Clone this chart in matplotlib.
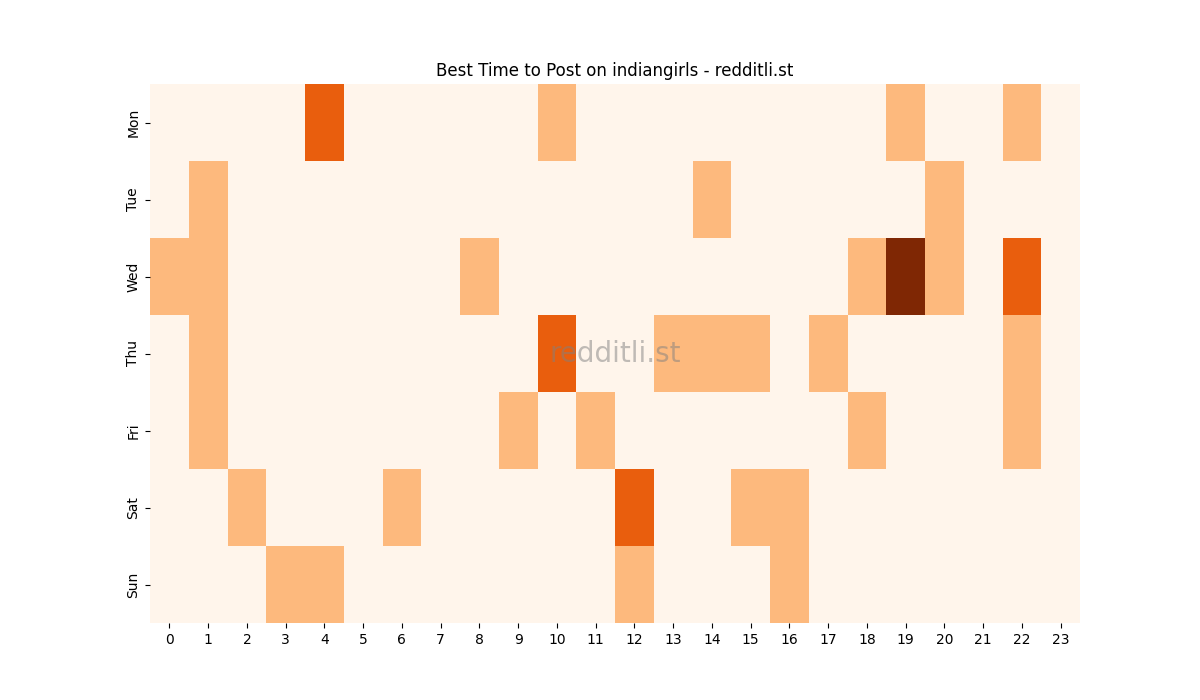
import numpy as np
import pandas as pd
import seaborn as sns
import matplotlib
matplotlib.use("Agg")
import matplotlib.pyplot as plt

days = ["Mon", "Tue", "Wed", "Thu", "Fri", "Sat", "Sun"]
hours = list(range(24))

# posts score per (day, hour) that is non zero
mon = {4: 2, 10: 1, 19: 1, 22: 1}
tue = {1: 1, 14: 1, 20: 1}
wed = {0: 1, 1: 1, 8: 1, 18: 1, 19: 3, 20: 1, 22: 2}
thu = {1: 1, 10: 2, 13: 1, 14: 1, 15: 1, 17: 1, 22: 1}
fri = {1: 1, 9: 1, 11: 1, 18: 1, 22: 1}
sat = {2: 1, 6: 1, 12: 2, 15: 1, 16: 1}
sun = {3: 1, 4: 1, 12: 1, 16: 1}

rows = [mon, tue, wed, thu, fri, sat, sun]
grid = np.zeros((len(days), len(hours)))
for i, r in enumerate(rows):
    for h, v in r.items():
        grid[i, h] = v

df = pd.DataFrame(grid, index=days, columns=hours)

fig, ax = plt.subplots(figsize=(12, 7), dpi=100)
sns.heatmap(df, cmap="Oranges", cbar=False, ax=ax)
ax.set_title("Best Time to Post on indiangirls - redditli.st")
ax.text(0.5, 0.5, "redditli.st", transform=ax.transAxes, ha="center", va="center",
        fontsize=20, color="grey", alpha=0.5)
plt.savefig("out.png")
